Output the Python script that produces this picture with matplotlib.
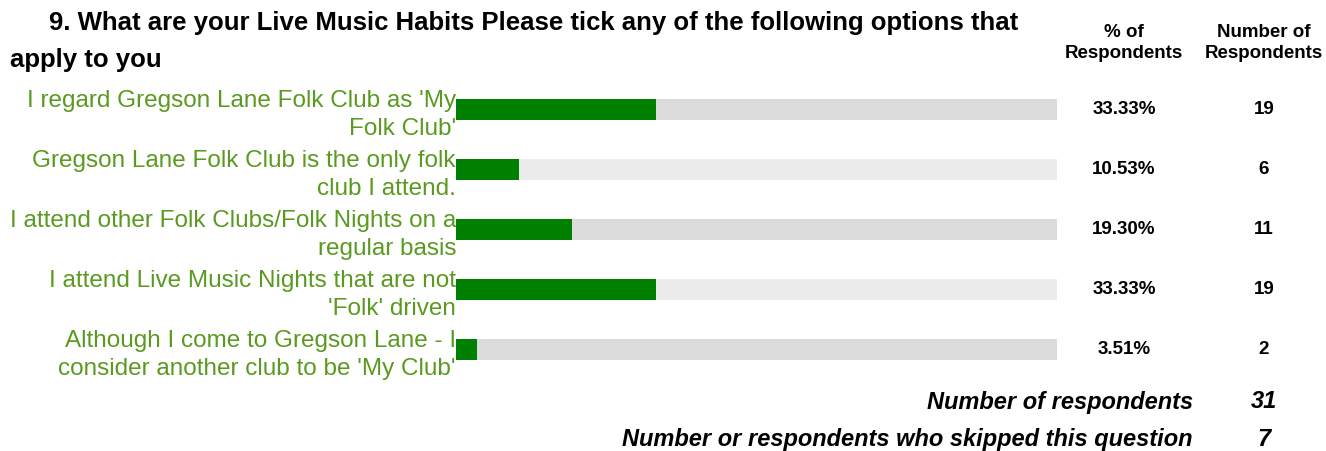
import matplotlib.pyplot as plt

plt.rcParams['font.family'] = ['Liberation Sans', 'DejaVu Sans']

# data
options = [
    "I regard Gregson Lane Folk Club as 'My\nFolk Club'",
    "Gregson Lane Folk Club is the only folk\nclub I attend.",
    "I attend other Folk Clubs/Folk Nights on a\nregular basis",
    "I attend Live Music Nights that are not\n'Folk' driven",
    "Although I come to Gregson Lane - I\nconsider another club to be 'My Club'",
]
percents = [33.33, 10.53, 19.30, 33.33, 3.51]
counts = [19, 6, 11, 19, 2]
answered = 31
skipped = 7

W, H = 1326, 452
fig = plt.figure(figsize=(W / 100, H / 100), dpi=100)

# bar area in pixel terms: x 456..1057, y 80..380
ax = fig.add_axes([456 / W, 1 - 380 / H, (1057 - 456) / W, 300 / H])
pos = list(range(len(options)))
bg = ['#dcdcdc' if i % 2 == 0 else '#ececec' for i in pos]
ax.barh(pos, [100] * len(pos), height=0.35, color=bg, zorder=1)
ax.barh(pos, percents, height=0.35, color='#008000', zorder=2)
ax.set_xlim(0, 100)
ax.set_ylim(len(options) - 0.5, -0.5)
ax.set_xticks([])
ax.set_yticks(pos)
ax.set_yticklabels(options, fontsize=17.5, color='#5a9a20', ha='right',
                   multialignment='right', linespacing=1.32)
ax.tick_params(axis='y', length=0, pad=0)
for s in ax.spines.values():
    s.set_visible(False)

# right columns
for i in pos:
    y = 1 - (110 + 60 * i) / H
    fig.text(1124 / W, y, f'{percents[i]:.2f}%', ha='center', va='center',
             fontsize=13.5, fontweight='bold')
    fig.text(1264 / W, y, str(counts[i]), ha='center', va='center',
             fontsize=13.5, fontweight='bold')

# title and headers
fig.text(49 / W, 1 - 23 / H, '9. What are your Live Music Habits Please tick any of the following options that',
         ha='left', va='center', fontsize=18.5, fontweight='bold')
fig.text(10 / W, 1 - 60 / H, 'apply to you', ha='left', va='center', fontsize=18.5, fontweight='bold')
fig.text(1124 / W, 1 - 43 / H, '% of\nRespondents', ha='center', va='center',
         fontsize=13.5, fontweight='bold', linespacing=1.25)
fig.text(1264 / W, 1 - 43 / H, 'Number of\nRespondents', ha='center', va='center',
         fontsize=13.5, fontweight='bold', linespacing=1.25)

# footer
fig.text(1193 / W, 1 - 402 / H, 'Number of respondents', ha='right', va='center',
         fontsize=17, fontweight='bold', style='italic')
fig.text(1264 / W, 1 - 402 / H, str(answered), ha='center', va='center',
         fontsize=17, fontweight='bold', style='italic')
fig.text(1193 / W, 1 - 440 / H, 'Number or respondents who skipped this question', ha='right', va='center',
         fontsize=17, fontweight='bold', style='italic')
fig.text(1264 / W, 1 - 440 / H, str(skipped), ha='center', va='center',
         fontsize=17, fontweight='bold', style='italic')

fig.savefig('out.png', dpi=100, facecolor='white')
